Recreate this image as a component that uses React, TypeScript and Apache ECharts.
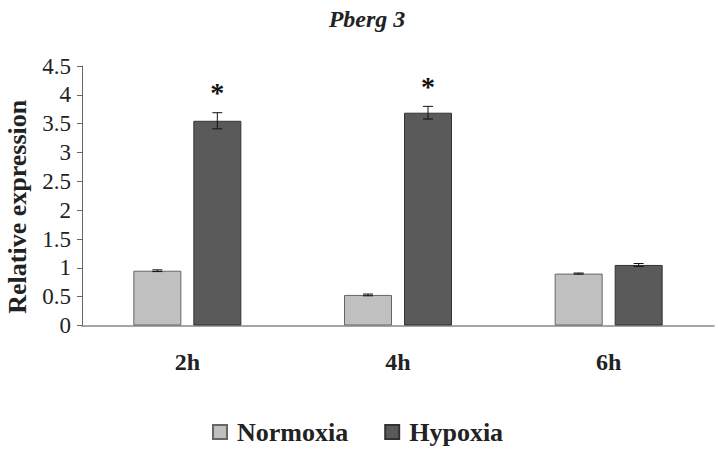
import React, { useEffect, useRef } from "react";
import * as echarts from "echarts";

const categories = ["2h", "4h", "6h"];
const normoxia = [0.95, 0.53, 0.9];
const normoxiaErr = [0.015, 0.015, 0.01];
const hypoxia = [3.55, 3.69, 1.05];
const hypoxiaErr = [0.14, 0.11, 0.025];
const significance = ["*", "*", ""];
const yTicks = { min: 0, max: 4.5, interval: 0.5 };

const FONT = '"Liberation Serif", "Times New Roman", serif';
const BAR_WIDTH = 48;
const BAR_GAP = 0.25;

function errorSeries(values: number[], errs: number[], sign: number, marks?: string[]) {
  const offset = sign * (BAR_WIDTH * (1 + BAR_GAP)) / 2;
  return {
    type: "custom",
    silent: true,
    z: 5,
    data: values.map((v, i) => [i, v, errs[i]]),
    encode: { x: 0, y: 1 },
    renderItem: (params: any, api: any) => {
      const idx = api.value(0);
      const v = api.value(1);
      const e = api.value(2);
      const top = api.coord([idx, v + e]);
      const bot = api.coord([idx, v - e]);
      const x = top[0] + offset;
      const cap = 5;
      const style = { stroke: "#111", lineWidth: 1 };
      const children: any[] = [
        { type: "line", shape: { x1: x, y1: top[1], x2: x, y2: bot[1] }, style },
        { type: "line", shape: { x1: x - cap, y1: top[1], x2: x + cap, y2: top[1] }, style },
        { type: "line", shape: { x1: x - cap, y1: bot[1], x2: x + cap, y2: bot[1] }, style },
      ];
      const m = marks ? marks[params.dataIndex] : "";
      if (m) {
        children.push({
          type: "text",
          x,
          y: top[1] - 20,
          style: {
            text: m,
            fill: "#111",
            font: `bold 28px ${FONT}`,
            align: "center",
            verticalAlign: "middle",
          },
        });
      }
      return { type: "group", children };
    },
  };
}

export default function App() {
  const ref = useRef<HTMLDivElement>(null);
  useEffect(() => {
    if (!ref.current) return;
    const chart = echarts.init(ref.current, undefined, { renderer: "svg" });
    chart.setOption({
      animation: false,
      backgroundColor: "#ffffff",
      title: {
        text: "Pberg 3",
        left: 362,
        textAlign: "center",
        top: 2,
        textStyle: { fontFamily: FONT, fontSize: 24, fontWeight: "bold", fontStyle: "italic", color: "#222" },
      },
      legend: {
        data: ["Normoxia", "Hypoxia"],
        left: 207,
        top: 414,
        icon: "rect",
        itemWidth: 14,
        itemHeight: 14,
        itemGap: 36,
        textStyle: { fontFamily: FONT, fontSize: 26, fontWeight: "bold", color: "#222", padding: [0, 0, 0, 5] },
      },
      grid: { left: 82, right: 4, top: 66, bottom: 124.5, outerBoundsMode: "none", containLabel: false },
      xAxis: {
        type: "category",
        data: categories,
        axisLine: { lineStyle: { color: "#888", width: 1.5 } },
        axisTick: { show: false },
        axisLabel: { fontFamily: FONT, fontSize: 24, fontWeight: "bold", color: "#222", margin: 24 },
      },
      yAxis: {
        type: "value",
        min: yTicks.min,
        max: yTicks.max,
        interval: yTicks.interval,
        name: "Relative expression",
        nameLocation: "middle",
        nameGap: 52,
        nameRotate: 90,
        nameTextStyle: { fontFamily: FONT, fontSize: 26, fontWeight: "bold", color: "#222", padding: [0, 22, 0, 0] },
        axisLine: { show: true, lineStyle: { color: "#666" } },
        axisTick: { show: true, length: 5, lineStyle: { color: "#666" } },
        splitLine: { show: false },
        axisLabel: { fontFamily: FONT, fontSize: 23, color: "#222", margin: 11 },
      },
      series: [
        {
          name: "Normoxia",
          type: "bar",
          data: normoxia,
          barWidth: BAR_WIDTH,
          barGap: `${BAR_GAP * 100}%`,
          itemStyle: { color: "#c0c0c0", borderColor: "#666", borderWidth: 1 },
        },
        {
          name: "Hypoxia",
          type: "bar",
          data: hypoxia,
          barWidth: BAR_WIDTH,
          barGap: `${BAR_GAP * 100}%`,
          itemStyle: { color: "#5a5a5a", borderColor: "#333", borderWidth: 1 },
        },
        errorSeries(normoxia, normoxiaErr, -1),
        errorSeries(hypoxia, hypoxiaErr, 1, significance),
      ],
    });
    return () => chart.dispose();
  }, []);
  return <div ref={ref} style={{ position: "fixed", left: 0, top: 0, width: 718, height: 450 }} />;
}
